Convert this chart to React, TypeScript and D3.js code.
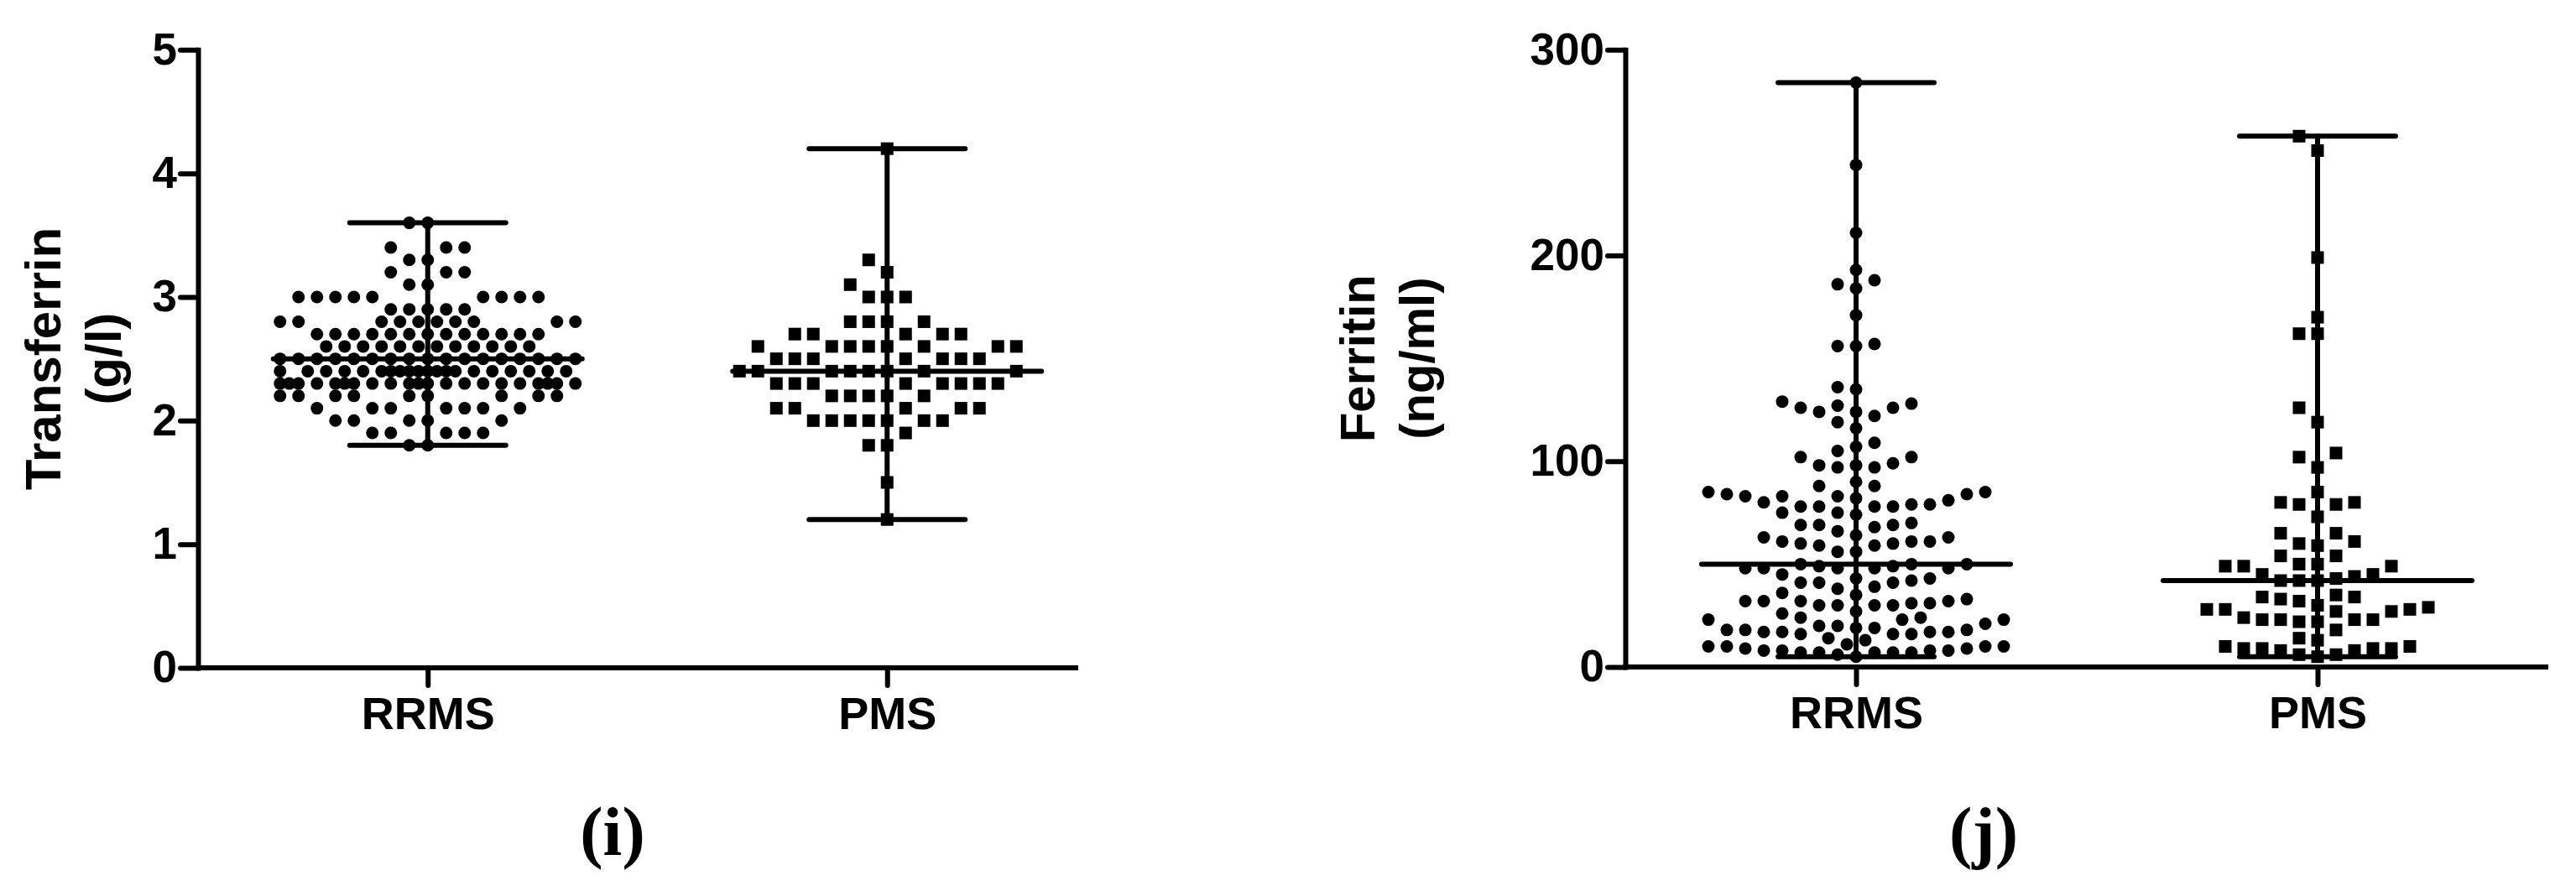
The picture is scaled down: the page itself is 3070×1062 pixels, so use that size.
import React, { useRef, useEffect } from "react";
import * as d3 from "d3";

// group names on the x axis
const groups = ["RRMS", "PMS"];

// Transferrin (g/l): values are on a 0.1 grid, so keep value + how many dots sit on that row
const transferrinRRMSLevels = [1.8, 1.9, 2.0, 2.1, 2.2, 2.3, 2.4, 2.5, 2.6, 2.7, 2.8, 2.9, 3.0, 3.1, 3.2, 3.3, 3.4, 3.6];
const transferrinRRMSCounts = [2, 5, 5, 7, 9, 21, 20, 17, 12, 13, 10, 5, 9, 2, 3, 2, 3, 2];
const transferrinPMSLevels = [1.2, 1.5, 1.8, 1.9, 2.0, 2.1, 2.2, 2.3, 2.4, 2.5, 2.6, 2.7, 2.8, 3.0, 3.1, 3.2, 3.3, 4.2];
const transferrinPMSCounts = [1, 1, 2, 1, 7, 5, 5, 8, 8, 7, 8, 5, 4, 3, 1, 1, 1, 1];
const transferrinTicks = [0, 1, 2, 3, 4, 5];

// Ferritin (ng/ml), read point by point
const ferritinRRMS = [
  284, 244, 211, 193, 186, 188, 184, 171,
  156, 157, 156, 136, 135, 129, 127, 126, 124, 122, 119, 116,
  124, 126, 128, 109, 107, 105, 102, 99, 98, 97, 98, 97, 102,
  90, 88, 88, 85, 84, 83, 83, 81, 79, 78, 78, 78, 78, 79, 80, 82, 83, 84, 85,
  75, 75, 74, 69, 69, 66, 68, 69, 70,
  64, 61, 61, 60, 59, 59, 60, 61, 63, 63,
  50, 56, 56, 50,
  49, 48, 48, 48, 48, 48, 49, 50,
  45, 43, 42, 41, 39, 36, 35, 38, 41, 41, 43,
  33, 32, 31, 30, 30, 27, 26, 24, 23, 23, 24, 23, 30, 30, 31, 32, 32, 32,
  20, 18, 18, 17, 17, 16, 16, 14, 13, 16, 17, 17, 18, 19, 19, 20, 21,
  11, 10, 10, 9, 8, 8, 7, 7, 6, 5, 7, 7, 7, 8, 8, 9, 10, 10,
];
const ferritinPMS = [
  258, 251, 199, 170, 162, 162, 126, 119, 104, 102, 97, 85, 80, 79, 79, 80, 73,
  65, 65, 60, 61, 59, 54, 54,
  50, 49, 49, 49, 50, 45, 45,
  42, 42, 43, 42, 44,
  34, 33, 34, 35, 32,
  28, 28, 27, 27, 28, 29, 30,
  24, 23, 22, 22, 23, 23, 23,
  18, 14, 13,
  10, 9, 9, 8, 6, 8, 9, 9, 10,
  6, 5,
];
const ferritinTicks = [0, 100, 200, 300];

const FONT = "'Liberation Sans', Arial, sans-serif";

// spread the dots of one column sideways like a Prism column scatter:
// whole-step slots first, half-step slots if the row is full, else least overlap
function swarm(values, y, step, minD, maxOff) {
  const pts = values.map((v) => ({ v, y: y(v), dx: 0 })).sort((a, b) => a.v - b.v);
  const full = [0];
  for (let k = 1; k * step <= maxOff; k++) full.push(-k * step, k * step);
  const half = [];
  for (let k = 0; (k + 0.5) * step <= maxOff; k++) half.push(-(k + 0.5) * step, (k + 0.5) * step);
  const placed = [];
  const score = (p, c) => {
    let m = Infinity;
    for (const q of placed) {
      if (Math.abs(q.y - p.y) < minD) m = Math.min(m, Math.hypot(q.dx - c, q.y - p.y));
    }
    return m;
  };
  pts.forEach((p) => {
    let best = null;
    for (const c of full) if (score(p, c) >= minD) { best = c; break; }
    if (best === null) for (const c of half) if (score(p, c) >= minD) { best = c; break; }
    if (best === null) {
      let bestScore = -1;
      for (const c of full.concat(half)) {
        const s = score(p, c);
        if (s > bestScore) { bestScore = s; best = c; }
      }
    }
    p.dx = best;
    placed.push(p);
  });
  return placed;
}

function expand(levels, counts) {
  return levels.flatMap((v, i) => Array(counts[i]).fill(v));
}

function drawPanel(svg, p) {
  const y = d3.scaleLinear().domain(p.domain).range([p.yBottom, p.yTop]);
  const x = d3.scalePoint().domain(groups).range([p.xLeft, p.xPoints]).padding(0.5);
  const g = svg.append("g");

  // y axis
  const yAxis = d3.axisLeft(y).tickValues(p.ticks).tickFormat(d3.format("d"))
    .tickSize(21).tickSizeOuter(0).tickPadding(4);
  const ya = g.append("g").attr("transform", `translate(${p.xLeft},0)`).call(yAxis);
  // x axis
  const xAxis = d3.axisBottom(x).tickSize(21).tickSizeOuter(0).tickPadding(14);
  const xa = g.append("g").attr("transform", `translate(0,${p.yBottom})`).call(xAxis);
  xa.select(".domain").attr("d", `M${p.xLeft},0H${p.xEnd}`);

  [ya, xa].forEach((a) => {
    a.attr("font-family", FONT).attr("font-weight", "bold").attr("font-size", 53);
    a.select(".domain").attr("stroke", "#000").attr("stroke-width", 6).attr("stroke-linecap", "square");
    a.selectAll(".tick line").attr("stroke", "#000").attr("stroke-width", 6).attr("stroke-linecap", "round");
    a.selectAll(".tick text").attr("fill", "#000");
  });
  xa.selectAll(".tick text").attr("font-size", 54);

  // y title, two lines
  const title = g.append("g").attr("font-family", FONT).attr("font-weight", "bold")
    .attr("font-size", p.titleSize).attr("text-anchor", "middle");
  p.title.forEach((t, i) => {
    title.append("text")
      .attr("transform", `translate(${p.titleX[i]},${(p.yTop + p.yBottom) / 2}) rotate(-90)`)
      .text(t);
  });

  // dots + range bars + median
  p.series.forEach((vals, gi) => {
    const cx = x(groups[gi]);
    const pts = swarm(vals, y, 22, 18, 176);
    const r = 7.5;
    if (gi === 0) {
      g.append("g").selectAll("circle").data(pts).join("circle")
        .attr("cx", (d) => cx + d.dx).attr("cy", (d) => d.y).attr("r", r).attr("fill", "#000");
    } else {
      g.append("g").selectAll("rect").data(pts).join("rect")
        .attr("x", (d) => cx + d.dx - r).attr("y", (d) => d.y - r)
        .attr("width", r * 2).attr("height", r * 2).attr("fill", "#000");
    }
    const lo = d3.min(vals);
    const hi = d3.max(vals);
    const med = d3.median(vals);
    const lines = g.append("g").attr("stroke", "#000").attr("stroke-width", 6).attr("stroke-linecap", "round");
    lines.append("line").attr("x1", cx).attr("x2", cx).attr("y1", y(lo)).attr("y2", y(hi));
    [lo, hi].forEach((v) => {
      lines.append("line").attr("x1", cx - 93).attr("x2", cx + 93).attr("y1", y(v)).attr("y2", y(v));
    });
    lines.append("line").attr("x1", cx - 184).attr("x2", cx + 184).attr("y1", y(med)).attr("y2", y(med));
  });

  // panel letter
  svg.append("text")
    .attr("x", p.letterX).attr("y", 1019)
    .attr("text-anchor", "middle")
    .attr("font-family", "'Liberation Serif', 'Times New Roman', serif")
    .attr("font-weight", "bold")
    .attr("font-size", 82)
    .text(p.letter);
}

function App() {
  const svgRef = useRef();

  useEffect(() => {
    const svg = d3.select(svgRef.current);
    svg.selectAll("*").remove();

    drawPanel(svg, {
      domain: [0, 5],
      ticks: transferrinTicks,
      xLeft: 236, xPoints: 1331, xEnd: 1282, yTop: 59.3, yBottom: 796,
      title: ["Transferrin", "(g/l)"], titleX: [72, 144], titleSize: 60,
      series: [expand(transferrinRRMSLevels, transferrinRRMSCounts), expand(transferrinPMSLevels, transferrinPMSCounts)],
      letter: "(i)", letterX: 730,
    });

    drawPanel(svg, {
      domain: [0, 300],
      ticks: ferritinTicks,
      xLeft: 1937, xPoints: 3037, xEnd: 3034, yTop: 59.3, yBottom: 795,
      title: ["Ferritin", "(ng/ml)"], titleX: [1638, 1709], titleSize: 58,
      series: [ferritinRRMS, ferritinPMS],
      letter: "(j)", letterX: 2364,
    });
  }, []);

  return (
    <div style={{ position: "absolute", left: 0, top: 0, background: "#fff" }}>
      <svg ref={svgRef} width={3070} height={1062} style={{ display: "block" }}></svg>
    </div>
  );
}

export default App;
